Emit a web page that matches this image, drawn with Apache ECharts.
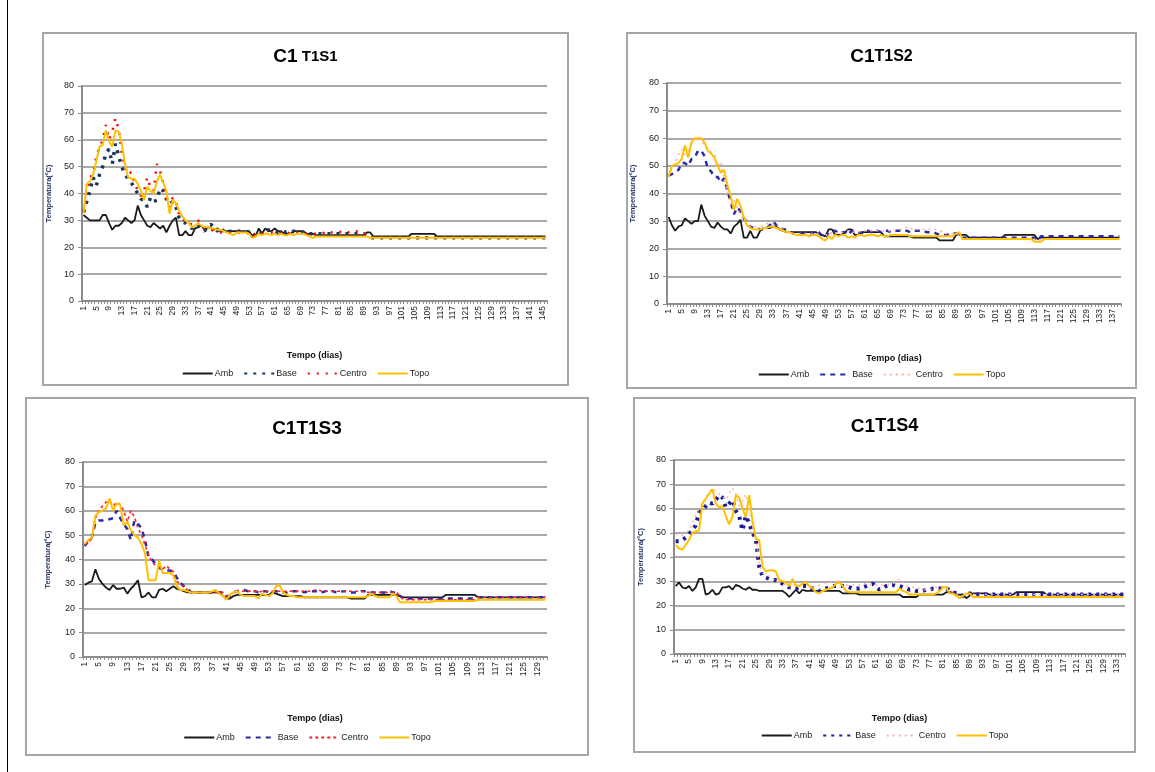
<!DOCTYPE html>
<html>
<head>
<meta charset="utf-8">
<script src="https://cdn.jsdelivr.net/npm/echarts@6/dist/echarts.min.js"></script>
<style>
  html, body { margin: 0; padding: 0; background: #fff; width: 1155px; height: 772px; overflow: hidden; }
  .vline { position: absolute; left: 7px; top: 0; width: 1px; height: 772px; background: #000; }
  .panel { position: absolute; box-sizing: border-box; border: 2px solid #a6a6a6; background: #fff; }
</style>
</head>
<body>
<div class="vline"></div>
<div id="p1" class="panel" style="left:42px;top:32px;width:527px;height:354px;"></div>
<div id="p2" class="panel" style="left:626px;top:32px;width:511px;height:357px;"></div>
<div id="p3" class="panel" style="left:25px;top:397px;width:564px;height:359px;"></div>
<div id="p4" class="panel" style="left:633px;top:397px;width:503px;height:356px;"></div>
<script>
// ---------- DATA ----------
const days = [1,2,3,4,5,6,7,8,9,10,11,12,13,14,15,16,17,18,19,20,21,22,23,24,25,26,27,28,29,30,
31,32,33,34,35,36,37,38,39,40,41,42,43,44,45,46,47,48,49,50,51,52,53,54,55,56,57,58,59,60,
61,62,63,64,65,66,67,68,69,70,71,72,73,74,75,76,77,78,79,80,81,82,83,84,85,86,87,88,89,90,
91,92,93,94,95,96,97,98,99,100,101,102,103,104,105,106,107,108,109,110,111,112,113,114,115,116,117,118,119,120,
121,122,123,124,125,126,127,128,129,130,131,132,133,134,135,136,137,138,139,140,141,142,143,144,145,146];

const seriesNames = ['Amb', 'Base', 'Centro', 'Topo'];
const panelTitles = [['C1', ' T1S1'], ['C1', 'T1S2'], ['C1', 'T1S3'], ['C1', 'T1S4']];
const xAxisName = 'Tempo (dias)';
const yAxisName = 'Temperatura(ºC)';
const yTicks = [0, 10, 20, 30, 40, 50, 60, 70, 80];

// Panel 1 : C1 T1S1 (146 days)
const amb1 = [32,31,30,30,30,30,32,32,29,26.5,
28,28,29,31,30,29,30,35.5,32,30,
28,27.5,29,28,27,28,25.5,28,30,31,
24.5,24.5,26,24.5,24.5,27,27.5,28,26.5,27.5,
27,26.5,27,26,26,26,26,26,26,26,
26,26,26,24,24,27,25,27,26,26,
27,26,26,25,25,25,26,26,26,26,
25,25,25,24.5,24.5,24.5,24.5,24.5,24.5,24.5,
24.5,24.5,24.5,24.5,24.5,24.5,24.5,24.5,24.5,25.5,
25.5,24,24,24,24,24,24,24,24,24,
24,24,24,25,25,25,25,25,25,25,
25,24,24,24,24,24,24,24,24,24,
24,24,24,24,24,24,24,24,24,24,
24,24,24,24,24,24,24,24,24,24,
24,24,24,24,24,24];
const base1 = [33,37,41,46,43,47,50,55,56.5,51,
58.5,54,50,47,45.5,44,42,40,38,37.5,
35,38.5,37,37.5,42,41,38,36,37,35,
31,29.5,29,28,27,27.5,28.5,27,26,28,
28.5,27,26,27.5,26,25,26,26,26,26,
26,26,25.5,24,25,26,25,26,26.5,26,
26,25.5,26,25.5,26,25.5,26,25.5,25.5,25.5,
25,25,25,25,25,25,25,25,25,25,
25,25,25,25,25,25,25,25,25,24.5,
23.5,23.5,23.5,23.5,23.5,23.5,23.5,23.5,23.5,23.5,
23.5,23.5,23.5,23.5,23.5,23.5,23.5,23.5,23.5,23.5,
23.5,23.5,23.5,23.5,23.5,23.5,23.5,23.5,23.5,23.5,
23.5,23.5,23.5,23.5,23.5,23.5,23.5,23.5,23.5,23.5,
23.5,23.5,23.5,23.5,23.5,23.5,23.5,23.5,23.5,23.5,
23.5,23.5,23.5,23.5,23.5,23.5];
const centro1 = [33,40,46,47,54,57,60,65.5,60,63,
68,64,55,50,47,48,44,41,39,41,
46,42,41,51,48.5,44,37,35,38.5,37,
32,31,29,29,28.5,29,30,28,27,27,
26.5,26,26,25.5,25.5,25.5,25.5,25.5,25.5,25.5,
25.5,25.5,25,24,25,25.5,25,25.5,25.5,25.5,
25.5,25,25.5,25,25.5,25,25.5,25.5,25.5,25.5,
25,25,25,25,25,25,26,26,25.5,26,
26,25.5,26,25.5,26,25.5,26,26,25.5,24,
23.5,23.5,23.5,23.5,23.5,23.5,23.5,23.5,23.5,23.5,
23.5,23.5,23.5,23.5,23.5,23.5,23.5,23.5,23.5,23.5,
23.5,23.5,23.5,23.5,23.5,23.5,23.5,23.5,23.5,23.5,
23.5,23.5,23.5,23.5,23.5,23.5,23.5,23.5,23.5,23.5,
23.5,23.5,23.5,23.5,23.5,23.5,23.5,23.5,23.5,23.5,
23.5,23.5,23.5,23.5,23.5,23.5];
const topo1 = [33,43.5,44.5,47,52,57.5,58,63.5,59.5,57.5,
63.5,63,58.5,51,46,45.5,45.5,43.5,41,37.5,
42.5,41,40,44.5,47,44,41,32.5,37.5,36.5,
33.5,31.5,30,29,27.5,28,29,28,27.5,27.5,
27,27,26.5,26.5,26,25.5,25,24.5,25.5,25.5,
25.5,25.5,25,23.5,24,25,24.5,25,25,24.5,
25,24.5,25,24.5,24.5,25,24.5,25,25,25,
24.5,24,23.5,24,24,24,24,24,24,24,
24,24,24,24,24,24,24,24,24,24,
23.5,23.5,23.5,23.5,23.5,23.5,23.5,23.5,23.5,23.5,
23.5,23.5,23.5,23.5,23.5,23.5,23.5,23.5,23.5,23.5,
23.5,23.5,23.5,23.5,23.5,23.5,23.5,23.5,23.5,23.5,
23.5,23.5,23.5,23.5,23.5,23.5,23.5,23.5,23.5,23.5,
23.5,23.5,23.5,23.5,23.5,23.5,23.5,23.5,23.5,23.5,
23.5,23.5,23.5,23.5,23.5,23.5];

// Panel 2 : C1T1S2 (139 days)
const amb2 = [31.5,28.5,26.5,28,28.5,31,30,29,30,30,
36,32,30,28,27.5,29.5,28,27,27,25.5,
28,29,30.5,24,24,26.5,24,24,26.5,27.5,
27.5,27.5,28,28,27,26.5,26,26,26,26,
26,26,26,26,26,26,25.5,25,24.5,27,
27,25,25,25,26,27,27,25,25,26,
26,26,26,26,26,26,24.5,24.5,24.5,24.5,
24.5,24.5,24.5,24.5,24.5,24,24,24,24,24,
24,24,24,23,23,23,23,23,25,25,
25,25,24,24,24,24,24,24,24,24,
24,24,24,25,25,25,25,25,25,25,
25,25,25,23.5,24,24,24,24,24,24,
24,24,24,24,24,24,24,24,24,24,
24,24,24,24,24,24,24,24,24];
const base2 = [46.5,47,48,48.5,51,51,50,52.5,53,55.5,
55.5,53.5,49,48,46,46,44,45.5,41,37,
32.5,35,33.5,31,29.5,28,27.5,27.5,27,27,
27.5,28.5,30,28.5,28,27,27,26.5,25.5,25.5,
25.5,25.5,25.5,25.5,25.5,26.5,26,24.5,24,26,
26.5,26.5,25.5,26,26,25,26.5,26.5,26,25.5,
26.5,26.5,26,26.5,26.5,26,26.5,26.5,26,26.5,
26.5,26.5,26.5,26.5,26,26.5,26.5,26.5,26.5,26,
26,26,25.5,25,25,25,25.5,25.5,25.5,25.5,
24,24,24,24,24,24,24,24,24,24,
24,24,24,24,24,24,24,24,24,24,
24,24,24,23,24.5,24.5,24.5,24.5,24.5,24.5,
24.5,24.5,24.5,24.5,24.5,24.5,24.5,24.5,24.5,24.5,
24.5,24.5,24.5,24.5,24.5,24.5,24.5,24.5,24.5];
const centro2 = [46,49,51,54,56,54,55,59,60,59.5,
59,57.5,56,55,54.5,50,51.5,45,40.5,36,
37.5,35,32,31,29,28,28,28,28,28.5,
29,29.5,29,29,27.5,27,26.5,26,25.5,25.5,
25.5,25.5,25.5,25.5,25.5,25.5,25.5,24,24.5,26,
25.5,26,25.5,26,26,26.5,26,26,26,26.5,
26.5,26.5,26.5,26.5,26.5,26.5,26.5,26.5,26.5,26.5,
27,27,27,28,27.5,27,27,27,27,27,
27,27,27,26.5,26,25.5,25.5,25.5,25,25,
23.5,23.5,23.5,23.5,23.5,23.5,23.5,23.5,23.5,23.5,
23.5,23.5,23.5,23.5,23.5,23.5,23.5,23.5,23.5,23.5,
23.5,23.5,23.5,23,23.5,23.5,23.5,23.5,23.5,23.5,
23.5,23.5,23.5,23.5,23.5,23.5,23.5,23.5,23.5,23.5,
23.5,23.5,23.5,23.5,23.5,23.5,23.5,23.5,23.5];
const topo2 = [46,50,50.5,51,52.5,57.5,53,58.5,60,60,
60,58.5,55.5,54.5,53,50,47.5,48.5,43,39,
34,38,35.5,31.5,28.5,27.5,27,27,27,27.5,
27.5,28,28,27.5,27,26.5,26,26,25.5,25,
25,25,25,24.5,25,25,24.5,23.5,23,24.5,
23.5,25,24.5,25,25,24,24.5,24,25,25,
24.5,25,25,25,24.5,25,24.5,24.5,25,25,
25,25,25,25,24.5,24.5,24.5,24.5,24.5,24.5,
24.5,24.5,24.5,24.5,24.5,24.5,24.5,24.5,25.5,26,
23.5,23.5,23.5,23.5,23.5,23.5,23.5,23.5,23.5,23.5,
23.5,23.5,23.5,23.5,23.5,23.5,23.5,23.5,23.5,23.5,
23.5,23.5,22.5,22.5,22.5,23.5,23.5,23.5,23.5,23.5,
23.5,23.5,23.5,23.5,23.5,23.5,23.5,23.5,23.5,23.5,
23.5,23.5,23.5,23.5,23.5,23.5,23.5,23.5,23.5];

// Panel 3 : C1T1S3 (131 days)
const amb3 = [29.5,30.5,31,36,32,30,28.5,27.5,29.5,28,
28,28.5,26,28,29.5,31.5,24.5,25,26.5,24.5,
24.5,27.5,28,27,28,29,28,27.5,27,26.5,
26.5,26.5,26.5,26.5,26.5,26.5,26.5,26.5,26.5,25,
24,24,25,25.5,25.5,25.5,25.5,25.5,25.5,25.5,
25.5,25.5,25.5,26.5,26,25.5,25,25,25,25,
25,25,24.5,24.5,24.5,24.5,24.5,24.5,24.5,24.5,
24.5,24.5,24.5,24.5,24.5,24,24,24,24,24,
25.5,25.5,25.5,25.5,25.5,25.5,25.5,25.5,25.5,25,
24.5,24.5,24.5,24.5,24.5,24.5,24.5,24.5,24.5,24.5,
24.5,24.5,25.5,25.5,25.5,25.5,25.5,25.5,25.5,25.5,
25.5,24.5,24.5,24.5,24.5,24.5,24.5,24.5,24.5,24.5,
24.5,24.5,24.5,24.5,24.5,24.5,24.5,24.5,24.5,24.5,
24.5];
const base3 = [45.5,47.5,49,55,56,56,56.5,56.5,57,60,
57,54.5,52.5,48,56,54.5,53,48,41,40,
38,36.5,36,35.5,35.5,35,32.5,30.5,29,28,
26.5,26.5,26.5,26.5,26.5,26.5,26.5,26.5,26.5,26.5,
25,25,26.5,27,27.5,27.5,27,27,27,26.5,
27,27,26.5,27,27,27,26.5,26.5,27,27,
27,27,26.5,27,27,27,27,26.5,27,27,
27,26.5,26.5,27,27,26.5,26.5,26.5,27,27,
27,26.5,26.5,26.5,26.5,26.5,27,26.5,26.5,25,
24,24,24,24,24,24,24,24,24,24,
24,24,24,24,24,24,24,24,24,24,
24,24.5,24.5,24.5,24.5,24.5,24.5,24.5,24.5,24.5,
24.5,24.5,24.5,24.5,24.5,24.5,24.5,24.5,24.5,24.5,
24.5];
const centro3 = [46,47,48.5,57,60,62,63.5,64,62,63.5,
62.5,60,55.5,60,57.5,53,50,46,42,39,
37.5,36.5,36,37.5,36,35,31,30,28.5,27.5,
26.5,26.5,26.5,26.5,26.5,26.5,26.5,26.5,26.5,26.5,
25,25.5,26.5,27,27,27,27,27,27,26.5,
27,27,27,27,27,27,27,27,27,27,
27,27,27,27,27,27.5,27.5,27,27,27,
27,27,27,27,27,27,27,27,27,27,
26.5,26.5,26.5,26.5,26.5,26.5,26.5,26.5,26.5,25,
23.5,23.5,23.5,23.5,23.5,23.5,23.5,23.5,23.5,23.5,
23.5,23.5,23.5,23.5,23.5,23.5,23.5,23.5,23.5,23.5,
23.5,24.5,24.5,24.5,24.5,24.5,24.5,24.5,24.5,24.5,
24.5,24.5,24.5,24.5,24.5,24.5,24.5,24.5,24.5,24.5,
24.5];
const topo3 = [46.5,48,49,58,59.5,60,61,65,60,63,
62.5,54,55.5,52,50,49,46.5,42.5,31.5,31.5,
31.5,39.5,34.5,34.5,34.5,33.5,29,27.5,27.5,27,
26.5,26.5,26.5,26.5,26.5,26.5,27,27.5,26,25,
23.5,25.5,26.5,27,25.5,25,25,25,25,24,
26,25.5,25,26,29,29.5,26.5,25.5,25,25,
24.5,24.5,24.5,24.5,24.5,24.5,24.5,24.5,24.5,24.5,
24.5,24.5,24.5,24.5,24.5,24.5,24.5,24.5,24.5,24.5,
25,26,25,24.5,24.5,24.5,24.5,26,25,22.5,
22.5,22.5,22.5,22.5,22.5,22.5,22.5,22.5,22.5,23,
23,23,23,23,23,23,23,23,23,23,
23,23.5,23.5,23.5,23.5,23.5,23.5,23.5,23.5,23.5,
23.5,23.5,23.5,23.5,23.5,23.5,23.5,23.5,23.5,23.5,
23.5];

// Panel 4 : C1T1S4 (135 days)
const amb4 = [28,29.5,27.5,27,28,26,27.5,31,31,24.5,
25,26.5,24.5,25,27.5,27.5,28,26.5,28.5,28,
27,26.5,27.5,26.5,26.5,26,26,26,26,26,
26,26,26,25,23.5,25,26.5,25,26.5,26,
26,26,26,26,26,26,26,26,26,26,
25,25,25,25,25,24.5,24.5,24.5,24.5,24.5,
24.5,24.5,24.5,24.5,24.5,24.5,24.5,24.5,23.5,23.5,
23.5,23.5,23.5,24.5,24.5,24.5,24.5,24.5,24.5,24.5,
24.5,25.5,25.5,25.5,24.5,24.5,24.5,23,24,25,
25,25,25,25,24.5,24.5,24.5,24.5,24.5,24.5,
24.5,24.5,25.5,25.5,25.5,25.5,25.5,25.5,25.5,25.5,
25.5,24.5,24.5,24.5,24.5,24.5,24.5,24.5,24.5,24.5,
24.5,24.5,24.5,24.5,24.5,24.5,24.5,24.5,24.5,24.5,
24.5,24.5,24.5,24.5,24.5];
const base4 = [46.5,46.5,47,48,49.5,51,53,58.5,59,61,
62.5,62,63.5,65.5,64.5,60.5,62,63.5,59,57,
51,57,54,50,47.5,36,32,31.5,31,30.5,
30.5,30,29,28,27.5,27.5,27,27.5,28,28,
27.5,27,27,26,26.5,27,27.5,28,28,28,
28,28,27.5,27,27,27,27.5,28,28.5,29,
27.5,26.5,27,28,28.5,28.5,28,28,27.5,27,
26.5,26.5,26,26,26,26.5,26.5,27,27,27,
27,27,26.5,25.5,25,24.5,24,24.5,25,24.5,
24.5,24.5,24.5,24.5,24.5,24.5,24.5,24.5,24.5,24.5,
24.5,24.5,24.5,24.5,24.5,24.5,24.5,24.5,24.5,24.5,
24.5,24.5,24.5,24.5,24.5,24.5,24.5,24.5,24.5,24.5,
24.5,24.5,24.5,24.5,24.5,24.5,24.5,24.5,24.5,24.5,
24.5,24.5,24.5,24.5,24.5];
const centro4 = [49.5,49,49,50,51,54,57,60,62,64.5,
66.5,68.5,67,66,65,63.5,66,68.5,66,61,
63,66,60,53,48.5,37.5,33.5,32.5,32,31,
30,29.5,29,28.5,28.5,28.5,28.5,29,29,28.5,
28.5,28,27.5,28.5,29,29.5,29.5,30,30,29.5,
28.5,28.5,28.5,28.5,28.5,28.5,29,29,28.5,29,
28.5,28.5,28.5,28.5,28.5,29,30,31,29.5,28,
27.5,27.5,27,27,26.5,26.5,26.5,27,27.5,27.5,
28,28,27,25.5,25,24,24,24.5,25,24.5,
24.5,24.5,24.5,24.5,24.5,24.5,24.5,24.5,24.5,24.5,
24.5,24.5,24.5,24.5,24.5,24.5,24.5,24.5,24.5,24.5,
24.5,24.5,24.5,24.5,24.5,24.5,24.5,24.5,24.5,24.5,
24.5,24.5,24.5,24.5,24.5,24.5,24.5,24.5,24.5,24.5,
24.5,24.5,24.5,24.5,24.5];
const topo4 = [45,43.5,43,45,47,50,50.5,51,62,64,
66,68,62,60.5,61,57,53.5,56.5,65.5,64.5,
60,56.5,65.5,55,47.5,47,36,34,34.5,34.5,
34,30.5,30,29.5,28,31,28,28,29,29.5,
28,27,25.5,25,26,26.5,27,27.5,29,29.5,
28,26,25.5,25.5,25.5,25.5,25.5,25.5,25.5,25.5,
25.5,25.5,25.5,25.5,25.5,25.5,25.5,27,26,25.5,
24.5,24.5,24.5,24.5,24.5,24.5,24.5,24.5,25,26,
27.5,27.5,25,25,24,23,24,25,25,23.5,
23.5,23.5,23.5,23.5,23.5,23.5,23.5,23.5,23.5,23.5,
23.5,23.5,23.5,23.5,23.5,23.5,23.5,23.5,23.5,23.5,
23.5,23.5,23.5,23.5,23.5,23.5,23.5,23.5,23.5,23.5,
23.5,23.5,23.5,23.5,23.5,23.5,23.5,23.5,23.5,23.5,
23.5,23.5,23.5,23.5,23.5];

// ---------- STYLES / LAYOUT ----------
const FONT = 'Liberation Sans, Arial, sans-serif';
const NARROW = 'Liberation Sans Narrow, Arial Narrow, Liberation Sans, sans-serif';

function makeOption(cfg) {
  const n = cfg.data[0].length;
  const cats = days.slice(0, n).map(String);
  const styles = cfg.styles;
  return {
    animation: false,
    title: {
      text: '{a|' + cfg.title[0] + '}{b|' + cfg.title[1] + '}',
      left: 'center', top: cfg.titleTop,
      textStyle: {
        rich: {
          a: { fontFamily: FONT, fontWeight: 'bold', fontSize: 19, color: '#000' },
          b: { fontFamily: NARROW, fontWeight: 'bold', fontSize: cfg.titleBSize, color: '#000' }
        }
      }
    },
    legend: {
      bottom: cfg.legendBottom, left: 'center',
      data: seriesNames,
      itemWidth: 30, itemHeight: 10, itemGap: 10,
      itemStyle: { opacity: 0 },
      textStyle: { fontFamily: FONT, fontSize: 9, color: '#222', padding: [0, 0, 0, -3] }
    },
    grid: { left: cfg.grid[0], top: cfg.grid[1], right: cfg.grid[2], bottom: cfg.grid[3],
            containLabel: false, outerBoundsMode: 'none' },
    xAxis: {
      type: 'category', data: cats, boundaryGap: true,
      name: xAxisName, nameLocation: 'middle', nameGap: cfg.xNameGap,
      nameTextStyle: { fontFamily: FONT, fontWeight: 'bold', fontSize: 9, color: '#111' },
      axisLine: { lineStyle: { color: '#8c8c8c', width: 2 } },
      axisTick: { show: true, interval: 0, length: 3, lineStyle: { color: '#8c8c8c' } },
      axisLabel: { interval: 3, rotate: 90, fontFamily: FONT, fontSize: 8.5, color: '#222', margin: 5 },
      splitLine: { show: false }
    },
    yAxis: {
      type: 'value', min: yTicks[0], max: yTicks[yTicks.length - 1], interval: 10,
      name: yAxisName, nameLocation: 'middle', nameGap: cfg.yNameGap, nameRotate: 90,
      nameTextStyle: { fontFamily: FONT, fontWeight: 'bold', fontSize: 7.5, color: '#1f2f5f' },
      axisLine: { show: true, lineStyle: { color: '#8c8c8c', width: 2 } },
      axisTick: { show: true, length: 4, lineStyle: { color: '#8c8c8c' } },
      axisLabel: { fontFamily: FONT, fontSize: 9, color: '#222', margin: 8 },
      splitLine: { lineStyle: { color: '#8c8c8c', width: 1.5 } }
    },
    series: seriesNames.map((nm, i) => ({
      name: nm, type: 'line', data: cfg.data[i], symbol: 'none',
      lineStyle: styles[i], itemStyle: { color: styles[i].color },
      z: 2 + i
    }))
  };
}

const AMB = { color: '#1a1a1a', width: 1.8, type: 'solid' };
const TOPO = { color: '#ffc000', width: 2, type: 'solid' };

const panels = [
  { id: 'p1', title: panelTitles[0], titleTop: 8, titleBSize: 15,
    grid: [38, 52, 20, 83], xNameGap: 50, yNameGap: 29, legendBottom: 1,
    data: [amb1, base1, centro1, topo1],
    styles: [AMB, { color: '#17375e', width: 3.5, type: [3, 6] },
             { color: '#ff0000', width: 2.5, type: [2, 7] }, TOPO] },
  { id: 'p2', title: panelTitles[1], titleTop: 8, titleBSize: 16,
    grid: [39, 49, 14, 83], xNameGap: 50, yNameGap: 30, legendBottom: 3,
    data: [amb2, base2, centro2, topo2],
    styles: [AMB, { color: '#2a2aa6', width: 2.5, type: [5, 5] },
             { color: '#ffaaaa', width: 1.5, type: [2, 4] }, TOPO] },
  { id: 'p3', title: panelTitles[2], titleTop: 15, titleBSize: 19,
    grid: [56, 63, 40, 97], xNameGap: 57, yNameGap: 31, legendBottom: 7,
    data: [amb3, base3, centro3, topo3],
    styles: [AMB, { color: '#2a2aa6', width: 2.5, type: [5, 5] },
             { color: '#ff2020', width: 1.6, type: [3, 3] }, TOPO] },
  { id: 'p4', title: panelTitles[3], titleTop: 13, titleBSize: 18,
    grid: [39, 61, 9, 97], xNameGap: 60, yNameGap: 29, legendBottom: 6,
    data: [amb4, base4, centro4, topo4],
    styles: [AMB, { color: '#1c1c9c', width: 4, type: [3, 5] },
             { color: '#ffb0b0', width: 1.5, type: [2, 4] }, TOPO] }
];

panels.forEach(p => {
  const chart = echarts.init(document.getElementById(p.id), null, { renderer: 'canvas' });
  chart.setOption(makeOption(p));
});
</script>
</body>
</html>
